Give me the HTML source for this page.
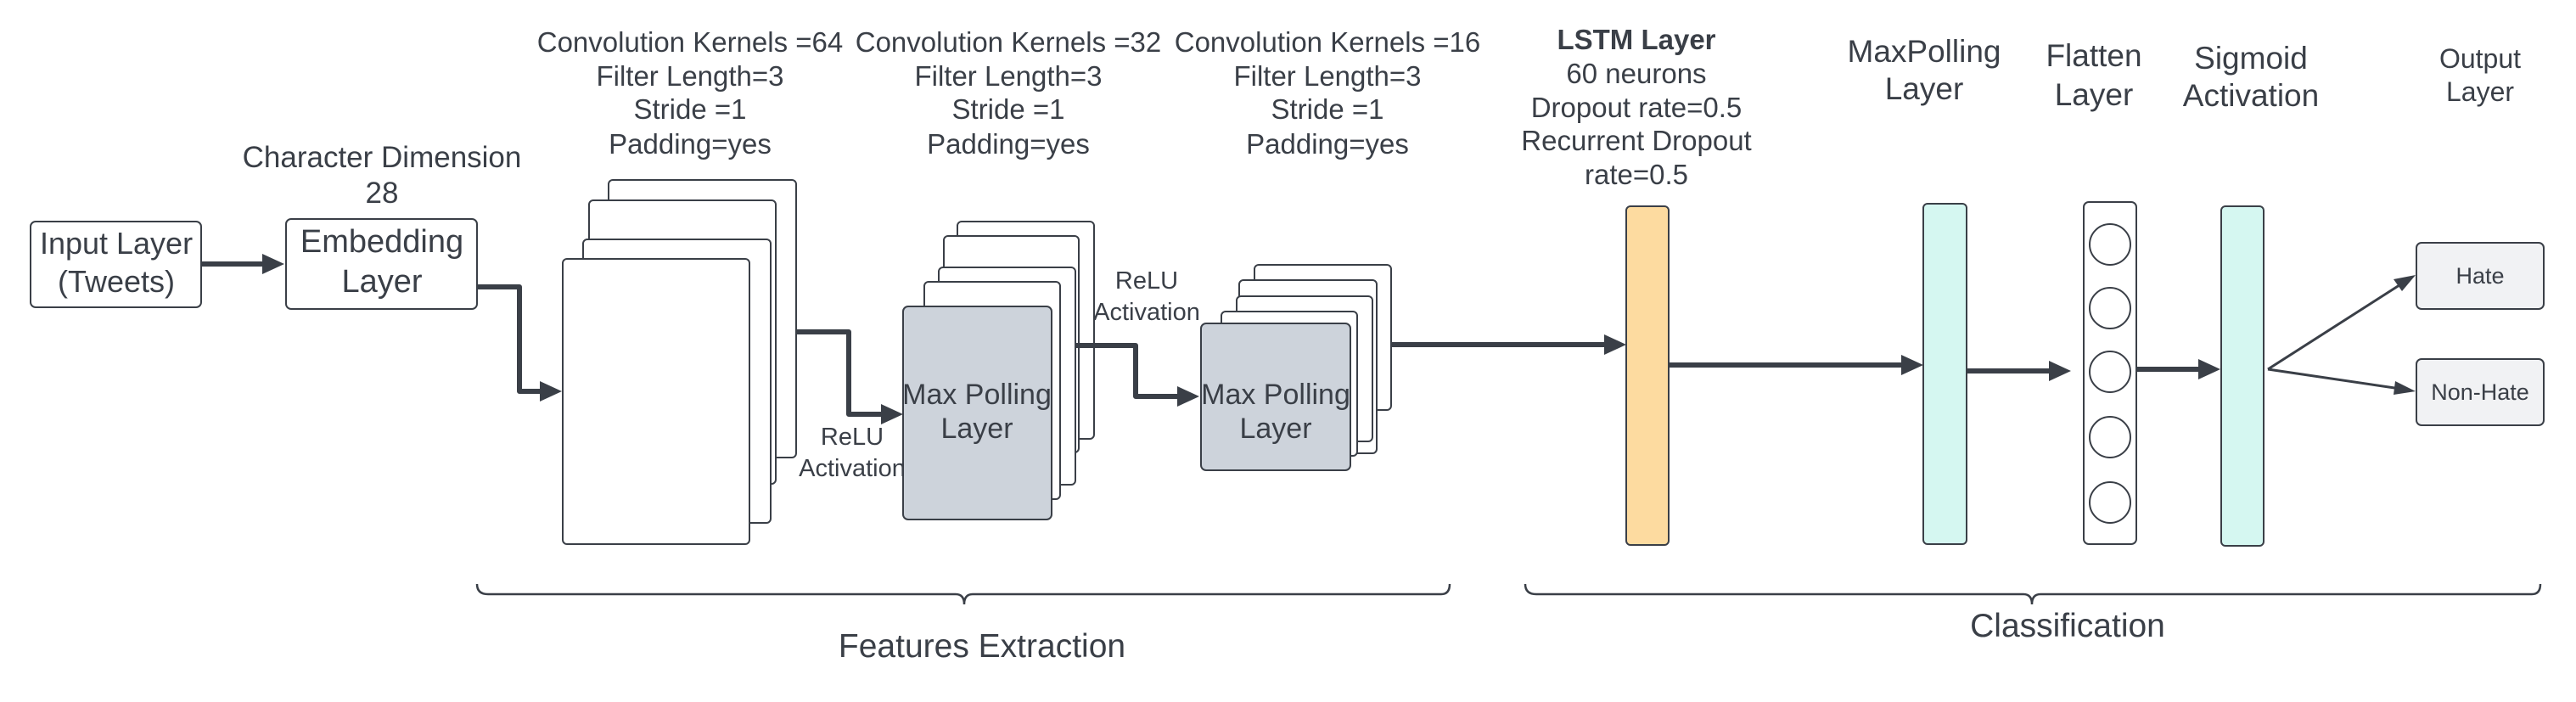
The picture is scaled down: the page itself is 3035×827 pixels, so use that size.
<!DOCTYPE html>
<html><head><meta charset="utf-8"><style>
html,body{margin:0;padding:0;background:#fff;}
svg{display:block;}
text{font-family:"Liberation Sans",sans-serif;fill:#3a3f47;}
</style></head><body>
<svg width="3035" height="827" viewBox="0 0 3035 827" xmlns="http://www.w3.org/2000/svg">
<g stroke="#3a3f47" fill="none">
<rect x="36" y="261" width="201" height="101" rx="6" fill="#fff" stroke-width="2"/>
<rect x="337" y="258" width="225" height="106" rx="6" fill="#fff" stroke-width="2"/>
<rect x="717" y="212" width="221" height="327" rx="5" fill="#fff" stroke-width="2"/>
<rect x="694" y="236" width="220" height="334" rx="5" fill="#fff" stroke-width="2"/>
<rect x="687" y="282" width="221" height="334" rx="5" fill="#fff" stroke-width="2"/>
<rect x="663" y="305" width="220" height="336" rx="5" fill="#fff" stroke-width="2"/>
<rect x="1128" y="261" width="161" height="256" rx="5" fill="#fff" stroke-width="2"/>
<rect x="1112" y="278" width="159" height="255" rx="5" fill="#fff" stroke-width="2"/>
<rect x="1106" y="315" width="161" height="256" rx="5" fill="#fff" stroke-width="2"/>
<rect x="1089" y="332" width="160" height="256" rx="5" fill="#fff" stroke-width="2"/>
<rect x="1064" y="361" width="175" height="251" rx="6" fill="#cdd3db" stroke-width="2"/>
<rect x="1478" y="312" width="161" height="171" rx="5" fill="#fff" stroke-width="2"/>
<rect x="1460" y="330" width="162" height="204" rx="5" fill="#fff" stroke-width="2"/>
<rect x="1457" y="349" width="160" height="171" rx="5" fill="#fff" stroke-width="2"/>
<rect x="1439" y="367" width="160" height="170" rx="5" fill="#fff" stroke-width="2"/>
<rect x="1415" y="381" width="176" height="173" rx="6" fill="#cdd3db" stroke-width="2"/>
<rect x="1916" y="243" width="50" height="399" rx="5" fill="#fddba0" stroke-width="2"/>
<rect x="2266" y="240" width="51" height="401" rx="5" fill="#d5f7f1" stroke-width="2"/>
<rect x="2455" y="238" width="62" height="403" rx="6" fill="#fff" stroke-width="2"/>
<circle cx="2486" cy="288" r="24" stroke-width="2"/>
<circle cx="2486" cy="363" r="24" stroke-width="2"/>
<circle cx="2486" cy="438" r="24" stroke-width="2"/>
<circle cx="2486" cy="515" r="24" stroke-width="2"/>
<circle cx="2486" cy="592" r="24" stroke-width="2"/>
<rect x="2617" y="243" width="50" height="400" rx="5" fill="#d5f7f1" stroke-width="2"/>
<rect x="2847" y="286" width="150" height="78" rx="6" fill="#f1f2f4" stroke-width="2"/>
<rect x="2847" y="423" width="150" height="78" rx="6" fill="#f1f2f4" stroke-width="2"/>
<g stroke-width="6" stroke-linejoin="round">
<path d="M237 311 H312"/>
<path d="M562 338 H612 V461 H640"/>
<path d="M938 391 H1000 V488 H1042"/>
<path d="M1268 407 H1338 V467 H1392"/>
<path d="M1639 406 H1894"/>
<path d="M1966 430 H2244"/>
<path d="M2317 437 H2418"/>
<path d="M2517 435 H2594"/>
</g>
<g stroke-width="3">
<path d="M2672 435 L2830 334"/>
<path d="M2672 435 L2828 458"/>
</g>
<g stroke-width="2.5">
<path d="M562 688 Q562 700 575 700 H1126 Q1136 700 1136 712 Q1136 700 1146 700 H1698 Q1708 700 1708 688"/>
<path d="M1797 688 Q1797 700 1810 700 H2384 Q2394 700 2394 712 Q2394 700 2404 700 H2983 Q2993 700 2993 688"/>
</g>
</g>
<g fill="#3a3f47">
<polygon points="335,311 309,299 309,323"/>
<polygon points="662,461 636,449 636,473"/>
<polygon points="1064,488 1038,476 1038,500"/>
<polygon points="1413,467 1387,455 1387,479"/>
<polygon points="1916,406 1890,394 1890,418"/>
<polygon points="2266,430 2240,418 2240,442"/>
<polygon points="2440,437 2414,425 2414,449"/>
<polygon points="2616,435 2590,423 2590,447"/>
<polygon points="2846,324 2820,329 2830,343"/>
<polygon points="2846,461 2822,449 2820,465"/>
</g>
<g text-anchor="middle">
<text x="137" y="299" font-size="36">Input Layer</text>
<text x="137" y="344" font-size="36">(Tweets)</text>
<text x="450" y="297" font-size="38">Embedding</text>
<text x="450" y="344" font-size="38">Layer</text>
<text x="450" y="197" font-size="35">Character Dimension</text>
<text x="450" y="239" font-size="35">28</text>
<g font-size="33">
<text x="813" y="61">Convolution Kernels =64</text>
<text x="813" y="101">Filter Length=3</text>
<text x="813" y="140">Stride =1</text>
<text x="813" y="181">Padding=yes</text>
<text x="1188" y="61">Convolution Kernels =32</text>
<text x="1188" y="101">Filter Length=3</text>
<text x="1188" y="140">Stride =1</text>
<text x="1188" y="181">Padding=yes</text>
<text x="1564" y="61">Convolution Kernels =16</text>
<text x="1564" y="101">Filter Length=3</text>
<text x="1564" y="140">Stride =1</text>
<text x="1564" y="181">Padding=yes</text>
<text x="1928" y="58" font-weight="bold">LSTM Layer</text>
<text x="1928" y="98">60 neurons</text>
<text x="1928" y="138">Dropout rate=0.5</text>
<text x="1928" y="177">Recurrent Dropout</text>
<text x="1928" y="217">rate=0.5</text>
</g>
<g font-size="29">
<text x="1004" y="524">ReLU</text>
<text x="1004" y="561">Activation</text>
<text x="1351" y="340">ReLU</text>
<text x="1351" y="377">Activation</text>
</g>
<text x="1151" y="476" font-size="34">Max Polling</text>
<text x="1151" y="516" font-size="34">Layer</text>
<text x="1503" y="476" font-size="34">Max Polling</text>
<text x="1503" y="516" font-size="34">Layer</text>
<g font-size="37">
<text x="2267" y="73">MaxPolling</text>
<text x="2267" y="117">Layer</text>
<text x="2467" y="78">Flatten</text>
<text x="2467" y="124">Layer</text>
<text x="2652" y="81">Sigmoid</text>
<text x="2652" y="125">Activation</text>
</g>
<text x="2922" y="80" font-size="32">Output</text>
<text x="2922" y="119" font-size="32">Layer</text>
<text x="2922" y="334" font-size="27">Hate</text>
<text x="2922" y="471" font-size="27">Non-Hate</text>
<text x="1157" y="774" font-size="39">Features Extraction</text>
<text x="2436" y="750" font-size="39">Classification</text>
</g>
</svg>
</body></html>
